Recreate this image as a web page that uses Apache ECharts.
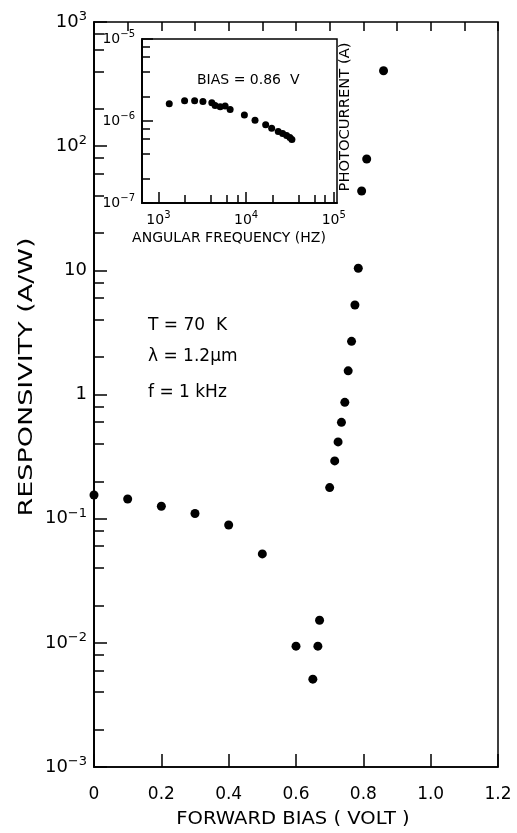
<!DOCTYPE html>
<html>
<head>
<meta charset="utf-8">
<script src="https://cdn.jsdelivr.net/npm/echarts@6.0.0/dist/echarts.min.js"></script>
<style>
html, body { margin: 0; padding: 0; background: #fff; }
#chart { width: 517px; height: 833px; }
</style>
</head>
<body>
<div id="chart"></div>
<script>
// Main plot: responsivity vs forward bias (T = 70 K)
const biasVolts = [0.00, 0.10, 0.20, 0.30, 0.40, 0.50, 0.60, 0.65, 0.665, 0.67, 0.70, 0.715, 0.725, 0.735, 0.745, 0.755, 0.765, 0.775, 0.785, 0.795, 0.81, 0.86];
const responsivity = [0.155, 0.144, 0.126, 0.110, 0.089, 0.052, 0.0094, 0.0051, 0.0094, 0.0152, 0.178, 0.292, 0.415, 0.597, 0.865, 1.55, 2.68, 5.26, 10.4, 43.5, 78.8, 405];

// Inset: photocurrent vs angular frequency at 0.86 V bias
const angularFreq = [1330, 1990, 2590, 3220, 4070, 4440, 5070, 5770, 6580, 9570, 12650, 16740, 19600, 23290, 26130, 29010, 31620, 33340];
const photocurrent = [1.62e-6, 1.76e-6, 1.76e-6, 1.73e-6, 1.67e-6, 1.55e-6, 1.49e-6, 1.52e-6, 1.38e-6, 1.18e-6, 1.02e-6, 8.98e-7, 8.18e-7, 7.45e-7, 7.04e-7, 6.66e-7, 6.30e-7, 5.96e-7];

// Tick values
const respMajorTicks = [1e-3, 1e-2, 1e-1, 1, 10, 100, 1000];
const respMinorTicks = [2e-3, 4e-3, 6e-3, 8e-3, 2e-2, 4e-2, 6e-2, 8e-2, 0.2, 0.4, 0.6, 0.8, 2, 4, 6, 8, 20, 40, 60, 80, 200, 400, 600, 800];
const freqMajorTicks = [1e3, 1e4, 1e5];
const freqMinorTicks = [2e3, 4e3, 6e3, 8e3, 2e4, 4e4, 6e4, 8e4];
const currMajorTicks = [1e-7, 1e-6, 1e-5];
const currMinorTicks = [2e-7, 4e-7, 6e-7, 8e-7, 2e-6, 4e-6, 6e-6, 8e-6];

const FONT = 'DejaVu Sans';
const INK = '#000';

function powLabel(v) {
    const e = Math.round(Math.log10(v));
    if (e === 0) return '{b|1}';
    if (e === 1) return '{b|10}';
    return '{b|10}{s|' + (e < 0 ? '\u2212' + (-e) : e) + '}';
}

function richFor(size) {
    return {
        b: { fontSize: size, fontFamily: FONT, color: INK, lineHeight: size + 6 },
        s: { fontSize: Math.round(size * 0.72), fontFamily: FONT, color: INK, lineHeight: Math.round(size * 0.72), verticalAlign: 'top' }
    };
}

function logAxis(gridIndex, min, max, ticks, tickLen, withLabels, size, position) {
    return {
        type: 'log',
        gridIndex: gridIndex,
        position: position,
        min: min,
        max: max,
        axisLine: { show: true, lineStyle: { color: INK, width: 1.5 } },
        axisTick: { show: true, inside: true, length: tickLen, customValues: ticks, lineStyle: { color: INK, width: 1.5 } },
        axisLabel: withLabels ? {
            show: true,
            customValues: ticks,
            formatter: powLabel,
            margin: 7,
            rich: richFor(size)
        } : { show: false },
        splitLine: { show: false },
        minorTick: { show: false }
    };
}

const chart = echarts.init(document.getElementById('chart'), null, { renderer: 'canvas' });

chart.setOption({
    animation: false,
    backgroundColor: '#fff',
    grid: [
        { left: 94, right: 19, top: 22, bottom: 66, show: true, borderColor: INK, borderWidth: 1.5, backgroundColor: 'transparent' },
        { left: 142, right: 180, top: 39, bottom: 630, show: true, borderColor: INK, borderWidth: 1.5, backgroundColor: '#fff' }
    ],
    xAxis: [
        {
            type: 'value', gridIndex: 0, min: 0, max: 1.2, interval: 0.2,
            axisLine: { lineStyle: { color: INK, width: 1.5 } },
            axisTick: { inside: true, length: 13, lineStyle: { color: INK, width: 1.5 } },
            axisLabel: {
                margin: 19, color: INK, fontFamily: FONT, fontSize: 17,
                formatter: v => (v === 0 ? '0' : v.toFixed(1))
            },
            splitLine: { show: false }
        },
        {
            type: 'value', gridIndex: 0, min: 0, max: 1.2, interval: 0.1,
            axisLine: { show: false },
            axisTick: { inside: true, length: 9, lineStyle: { color: INK, width: 1.5 } },
            axisLabel: { show: false },
            splitLine: { show: false }
        },
        logAxis(1, 650, 109000, freqMajorTicks, 11, true, 14, 'bottom'),
        logAxis(1, 650, 109000, freqMinorTicks, 8, false, 14, 'bottom')
    ],
    yAxis: [
        logAxis(0, 1e-3, 1e3, respMajorTicks, 13, true, 18, 'left'),
        logAxis(0, 1e-3, 1e3, respMinorTicks, 10, false, 18, 'left'),
        logAxis(1, 1e-7, 1e-5, currMajorTicks, 11, true, 14, 'left'),
        logAxis(1, 1e-7, 1e-5, currMinorTicks, 8, false, 14, 'left')
    ],
    series: [
        {
            type: 'scatter',
            xAxisIndex: 0, yAxisIndex: 0,
            data: biasVolts.map((v, i) => [v, responsivity[i]]),
            symbol: 'circle', symbolSize: 9,
            itemStyle: { color: INK, opacity: 1 },
            clip: false
        },
        {
            type: 'scatter',
            xAxisIndex: 2, yAxisIndex: 2,
            data: angularFreq.map((f, i) => [f, photocurrent[i]]),
            symbol: 'circle', symbolSize: 7,
            itemStyle: { color: INK, opacity: 1 },
            clip: false
        }
    ],
    graphic: [
        { type: 'text', x: 27, y: 377, rotation: Math.PI / 2, scaleX: 1.35, style: { text: 'RESPONSIVITY (A/W)', fill: INK, font: '20px "DejaVu Sans"', textAlign: 'center', textVerticalAlign: 'middle' } },
        { type: 'text', x: 293, y: 820, scaleX: 1.15, style: { text: 'FORWARD BIAS ( VOLT )', fill: INK, font: '17px "DejaVu Sans"', textAlign: 'center', textVerticalAlign: 'middle' } },
        { type: 'text', x: 229, y: 238, style: { text: 'ANGULAR FREQUENCY (HZ)', fill: INK, font: '14px "DejaVu Sans"', textAlign: 'center', textVerticalAlign: 'middle' } },
        { type: 'text', x: 345, y: 117, rotation: Math.PI / 2, scaleX: 1.05, style: { text: 'PHOTOCURRENT (A)', fill: INK, font: '14px "DejaVu Sans"', textAlign: 'center', textVerticalAlign: 'middle' } },
        { type: 'text', x: 197, y: 80, style: { text: 'BIAS = 0.86  V', fill: INK, font: '14px "DejaVu Sans"', textAlign: 'left', textVerticalAlign: 'middle' } },
        { type: 'text', x: 148, y: 326, style: { text: 'T = 70  K', fill: INK, font: '17px "DejaVu Sans"', textAlign: 'left', textVerticalAlign: 'middle' } },
        { type: 'text', x: 148, y: 357, style: { text: '\u03bb = 1.2\u03bcm', fill: INK, font: '17px "DejaVu Sans"', textAlign: 'left', textVerticalAlign: 'middle' } },
        { type: 'text', x: 148, y: 393, style: { text: 'f = 1 kHz', fill: INK, font: '17px "DejaVu Sans"', textAlign: 'left', textVerticalAlign: 'middle' } }
    ]
});
</script>
</body>
</html>
